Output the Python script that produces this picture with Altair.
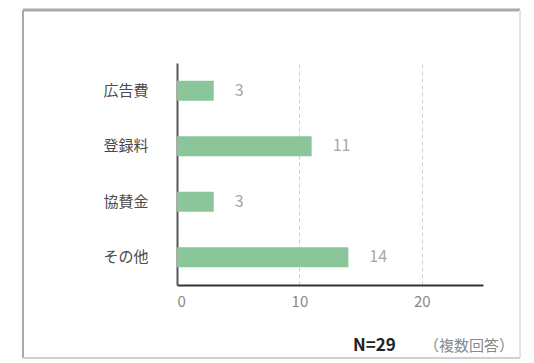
import altair as alt
import pandas as pd

# Survey items and number of responses (multiple answers allowed)
categories = ["広告費", "登録料", "協賛金", "その他"]
counts = [3, 11, 3, 14]
x_ticks = [0, 10, 20]
note_main = ["N=29"]
note_sub = ["（複数回答）"]

FONT = "Noto Sans CJK JP"
W, H = 306, 222
LEFT, TOP = 177, 63

df = pd.DataFrame({"item": categories, "count": counts})

x_enc = alt.X(
    "count:Q",
    scale=alt.Scale(domain=[0, 25], nice=False),
    axis=alt.Axis(
        values=x_ticks, title=None, grid=True, gridDash=[4, 3], gridColor="#cfcfcf",
        ticks=False, domainColor="#333333", domainWidth=2,
        labelColor="#888888", labelFontSize=15, labelPadding=9, labelFont=FONT,
    ),
)
y_enc = alt.Y(
    "item:N",
    sort=categories,
    scale=alt.Scale(paddingInner=0.64, paddingOuter=0.32),
    axis=alt.Axis(
        title=None, ticks=False, domainColor="#555555", domainWidth=2,
        labelColor="#4a4a4a", labelFontSize=15, labelPadding=29, labelFont=FONT,
    ),
)

bars = alt.Chart(df).mark_bar(color="#8ac69a").encode(x=x_enc, y=y_enc)

values = alt.Chart(df).mark_text(
    align="left", dx=21, fontSize=16, color="#a8a8a8", font=FONT
).encode(x="count:Q", y=alt.Y("item:N", sort=categories), text="count:Q")

# Outer frame: darker top/left edges, lighter right/bottom edges
one = pd.DataFrame({"k": [0]})
fx0, fx1, fy0, fy1 = 23 - LEFT, 520 - LEFT, 10 - TOP, 358 - TOP
frame_top = alt.Chart(one).mark_rule(color="#aaaaaa", strokeWidth=3).encode(
    x=alt.value(fx0), x2=alt.value(fx1), y=alt.value(fy0))
frame_left = alt.Chart(one).mark_rule(color="#aaaaaa", strokeWidth=2).encode(
    x=alt.value(fx0), y=alt.value(fy0), y2=alt.value(fy1))
frame_right = alt.Chart(one).mark_rule(color="#e4e4e4", strokeWidth=2).encode(
    x=alt.value(fx1), y=alt.value(fy0), y2=alt.value(fy1))
frame_bottom = alt.Chart(one).mark_rule(color="#d0d0d0", strokeWidth=2).encode(
    x=alt.value(fx0), x2=alt.value(fx1), y=alt.value(fy1))

n_text = alt.Chart(pd.DataFrame({"t": note_main})).mark_text(
    align="left", baseline="middle", fontSize=17, fontWeight="bold", color="#222222", font=FONT
).encode(x=alt.value(353 - LEFT), y=alt.value(346 - TOP), text="t:N")

sub_text = alt.Chart(pd.DataFrame({"t": note_sub})).mark_text(
    align="left", baseline="middle", fontSize=15, color="#888888", font=FONT
).encode(x=alt.value(424 - LEFT), y=alt.value(346 - TOP), text="t:N")

chart = (
    alt.layer(frame_top, frame_left, frame_right, frame_bottom, bars, values, n_text, sub_text)
    .properties(
        width=W, height=H,
        autosize=alt.AutoSizeParams(type="none"),
        padding={"left": LEFT, "top": TOP, "right": 534 - LEFT - W, "bottom": 363 - TOP - H},
        background="white",
    )
    .configure_view(stroke=None)
)

chart.save("out.html", embed_options={"renderer": "svg", "actions": False})
